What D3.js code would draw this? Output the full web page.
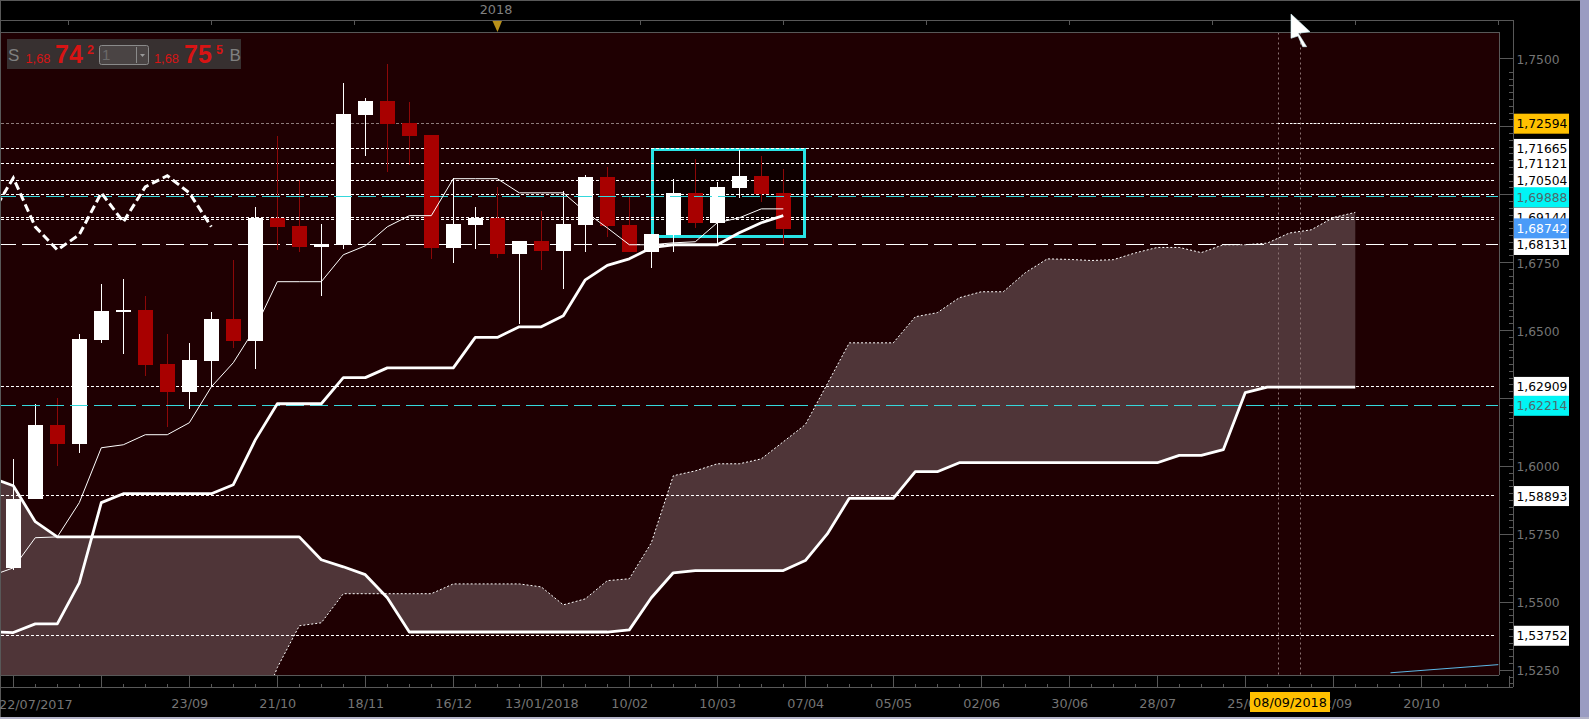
<!DOCTYPE html>
<html><head><meta charset="utf-8">
<script src="https://cdn.jsdelivr.net/npm/d3@7"></script>
<style>
html,body{margin:0;padding:0;background:#000;overflow:hidden}
svg{display:block}
text{font-family:"DejaVu Sans",sans-serif}
</style></head><body>
<svg id="c" width="1589" height="719"></svg>
<script>
// ---------- data ----------
const opens  = [1.5625,1.5879,1.6152,1.6082,1.6464,1.6567,1.6575,1.6376,1.6273,1.6387,1.6541,1.6461,1.6913,1.6884,1.6806,1.6814,1.7292,1.7344,1.7263,1.7219,1.6803,1.6887,1.6913,1.6781,1.6828,1.6792,1.6887,1.7064,1.6887,1.6788,1.6851,1.7005,1.6895,1.7023,1.7068,1.7005];
const closes = [1.5879,1.6152,1.6082,1.6468,1.6571,1.6575,1.6372,1.6273,1.6391,1.6541,1.6461,1.6913,1.6880,1.6806,1.6817,1.7296,1.7344,1.7259,1.7215,1.6803,1.6891,1.6913,1.6781,1.6828,1.6792,1.6891,1.7064,1.6884,1.6788,1.6854,1.7005,1.6895,1.7027,1.7068,1.7001,1.6873];
const highs  = [1.6027,1.6229,1.6251,1.6486,1.6670,1.6689,1.6626,1.6486,1.6453,1.6567,1.6759,1.6954,1.7215,1.7053,1.6891,1.7410,1.7355,1.7480,1.7340,1.7219,1.7060,1.6954,1.7027,1.6828,1.6939,1.7012,1.7071,1.7101,1.6990,1.6854,1.7057,1.7130,1.7046,1.7163,1.7141,1.7093];
const lows   = [1.5618,1.5879,1.6001,1.6049,1.6453,1.6413,1.6332,1.6144,1.6210,1.6291,1.6435,1.6358,1.6795,1.6788,1.6626,1.6799,1.7141,1.7082,1.7108,1.6762,1.6748,1.6799,1.6766,1.6523,1.6722,1.6652,1.6788,1.6843,1.6788,1.6729,1.6788,1.6876,1.6814,1.6987,1.6972,1.6817];

// Ichimoku series: first element belongs to bar index -1
const tenkan = [1.5596,1.5625,1.5736,1.5739,1.5865,1.6067,1.6078,1.6115,1.6115,1.6159,1.6291,1.6380,1.6508,1.6678,1.6678,1.6678,1.6777,1.6810,1.6880,1.6921,1.6921,1.7057,1.7057,1.7057,1.7005,1.7005,1.7005,1.6935,1.6876,1.6814,1.6814,1.6821,1.6825,1.6895,1.6913,1.6946,1.6946];
const kijun  = [1.5390,1.5387,1.5419,1.5419,1.5570,1.5865,1.5898,1.5898,1.5898,1.5898,1.5898,1.5931,1.6096,1.6229,1.6229,1.6229,1.6325,1.6325,1.6361,1.6361,1.6361,1.6361,1.6473,1.6473,1.6512,1.6512,1.6553,1.6685,1.6738,1.6762,1.6803,1.6814,1.6814,1.6814,1.6858,1.6895,1.6921];
const senkouA = [1.505,1.505,1.505,1.505,1.505,1.505,1.505,1.505,1.505,1.505,1.505,1.505,1.505,1.5258,1.5412,1.5423,1.5530,1.5530,1.5530,1.5530,1.5530,1.5566,1.5566,1.5566,1.5566,1.5555,1.5489,1.5511,1.5578,1.5585,1.5717,1.5964,1.5982,1.6008,1.6008,1.6026,1.6089,1.6152,1.6302,1.6453,1.6453,1.6453,1.6549,1.6564,1.6619,1.6641,1.6641,1.6711,1.6762,1.6760,1.6756,1.6759,1.6784,1.6804,1.6804,1.6785,1.6814,1.6814,1.6820,1.6857,1.6869,1.6914,1.6933];
const senkouB = [1.5957,1.5927,1.5795,1.5739,1.5739,1.5739,1.5739,1.5739,1.5739,1.5739,1.5739,1.5739,1.5739,1.5739,1.5739,1.5655,1.5629,1.5600,1.5515,1.5389,1.5389,1.5389,1.5389,1.5389,1.5389,1.5389,1.5389,1.5389,1.5389,1.5397,1.5515,1.5607,1.5615,1.5615,1.5615,1.5615,1.5615,1.5652,1.5750,1.5881,1.5881,1.5881,1.5979,1.5979,1.6012,1.6012,1.6012,1.6012,1.6012,1.6012,1.6012,1.6012,1.6012,1.6012,1.6039,1.6039,1.6060,1.6270,1.6290,1.6290,1.6290,1.6290,1.6290];
const chikou = [1.6924,1.7060,1.6880,1.6795,1.6851,1.7005,1.6898,1.7027,1.7068,1.7005,1.6880];
const blueIdx = [62.6,67.5];
const blueVal = [1.5239,1.5269];

const dottedLevels = [1.72594,1.71665,1.71121,1.70504,1.6997,1.69144,1.6904,1.62909,1.58893,1.53752];
const cyanLevels = [1.69888,1.62214];
const longDashLevels = [1.68131];
const boxIdx = [29.05,35.97];
const boxVal = [1.7163,1.6843];

const yMajor = [1.75,1.725,1.7,1.675,1.65,1.625,1.6,1.575,1.55,1.525];
const yLabels = [1.75,1.675,1.65,1.6,1.575,1.55,1.525];
// order matters: later boxes paint over earlier ones
const tagValues = [1.68131,1.69144,1.70504,1.71121,1.71665,1.72594,1.69888,1.68742,1.62909,1.62214,1.58893,1.53752];
const tagFills  = ["#fff","#fff","#fff","#fff","#fff","#ffc000","#00f5f5","#4a9bf8","#fff","#00f5f5","#fff","#fff"];
const tagInks   = ["#000","#000","#000","#000","#000","#000","#4d6a6c","#fff","#000","#4d6a6c","#000","#000"];

const xMajorIdx = [0,4,8,12,16,20,24,28,32,36,40,44,48,52,56,60,64,68];
const xLabelIdx = [8,12,16,20,24,28,32,36,40,44,48,52,56,60,64];
const xLabelTxt = ["23/09","21/10","18/11","16/12","13/01/2018","10/02","10/03","07/04","05/05","02/06","30/06","28/07","25/08","22/09","20/10"];
const topTickIdx = [2.49,8.99,15.49,21.99,28.49,34.99,41.49,47.99,54.49,60.99,67.49];
const cursorIdx = [57.5,58.5];
const cursorDate = "08/09/2018";

// ---------- layout ----------
const C = {bg:"#1f0002",cloud:"#4f3538",axis:"#585858",txt:"#757575",red:"#a80000",wick:"#8c0808",cyan:"#28e4e6"};
const P = {l:1,r:1499,t:32.5,b:675};
const x = d3.scaleLinear().domain([0,67]).range([13.3,1487.3]);
const y = d3.scaleLinear().domain([1.525,1.75]).range([669.8,58.3]);
const snap = v=>Math.floor(y(v)-0.4)+.5;
const fmt = d=>d.toFixed(4).replace(".",",");
const fmt5 = d=>d.toFixed(5).replace(".",",");
const svg = d3.select("#c");

// plot background
svg.append("rect").attr("x",P.l).attr("y",P.t).attr("width",P.r-P.l).attr("height",P.b-P.t).attr("fill",C.bg);
svg.append("clipPath").attr("id","pc").append("rect").attr("x",P.l).attr("y",P.t).attr("width",P.r-P.l).attr("height",P.b-P.t);
const g = svg.append("g").attr("clip-path","url(#pc)");

// cloud
const cloudA = senkouA.map((v,i)=>({i:i-1,a:v,b:senkouB[i]}));
g.append("path").datum(cloudA).attr("fill",C.cloud)
  .attr("d",d3.area().x(d=>x(d.i)).y0(d=>y(d.a)).y1(d=>y(d.b)));

// highlight box interior
const bx0=x(boxIdx[0]),bx1=x(boxIdx[1]),by0=y(boxVal[0]),by1=y(boxVal[1]);
g.append("rect").attr("x",bx0).attr("y",by0).attr("width",bx1-bx0).attr("height",by1-by0).attr("fill","#0f0000");
g.append("rect").attr("x",bx0).attr("y",by0).attr("width",bx1-bx0).attr("height",by1-by0)
  .attr("fill","none").attr("stroke",C.cyan).attr("stroke-width",3).attr("shape-rendering","crispEdges");

// vertical cursors
g.selectAll("line.v").data(cursorIdx).join("line")
  .attr("x1",d=>Math.round(x(d))+.5).attr("x2",d=>Math.round(x(d))+.5).attr("y1",P.t).attr("y2",P.b)
  .attr("stroke","#8a7272").attr("stroke-width",1).attr("stroke-dasharray","2 3");

// dotted levels
g.selectAll("line.d").data(dottedLevels).join("line")
  .attr("x1",1).attr("x2",1496).attr("y1",snap).attr("y2",snap)
  .attr("stroke",d=>d===dottedLevels[0]?"#8c7a7a":"#fff").attr("stroke-width",1).attr("stroke-dasharray","3 2").attr("shape-rendering","crispEdges");
g.append("line").attr("x1",1278).attr("x2",1496).attr("y1",snap(dottedLevels[0])).attr("y2",snap(dottedLevels[0]))
  .attr("stroke","#fff").attr("stroke-dasharray","2 2").attr("shape-rendering","crispEdges");
// long dash
g.selectAll("line.l").data(longDashLevels).join("line")
  .attr("x1",-2).attr("x2",1498).attr("y1",snap).attr("y2",snap)
  .attr("stroke","#fff").attr("stroke-dasharray","18 6").attr("shape-rendering","crispEdges");

// candles
const bars = opens.map((o,i)=>({i,o,c:closes[i],h:highs[i],l:lows[i]}));
const col = d=>d.c>=d.o?"#fff":C.red;
g.selectAll("line.w").data(bars).join("line")
  .attr("x1",d=>Math.round(x(d.i))+.5).attr("x2",d=>Math.round(x(d.i))+.5)
  .attr("y1",d=>y(d.h)).attr("y2",d=>y(d.l)).attr("stroke",d=>d.c>=d.o?"#fff":C.wick).attr("shape-rendering","crispEdges");
g.selectAll("rect.b").data(bars).join("rect")
  .attr("x",d=>Math.round(x(d.i))-7).attr("width",15)
  .attr("y",d=>y(Math.max(d.o,d.c))).attr("height",d=>Math.max(2,Math.abs(y(d.o)-y(d.c))))
  .attr("fill",col).attr("shape-rendering","crispEdges");

// cyan levels above candles
g.selectAll("line.c").data(cyanLevels).join("line")
  .attr("x1",-2).attr("x2",1498).attr("y1",snap).attr("y2",snap)
  .attr("stroke","#35d8dc").attr("stroke-dasharray","18 6").attr("shape-rendering","crispEdges");

// ichimoku lines
const line = d3.line().x(d=>x(d.i)).y(d=>y(d.v));
const ser = (arr,off)=>arr.map((v,i)=>({i:i+off,v}));
g.append("path").datum(ser(senkouA,-1).filter(d=>d.i>=11)).attr("d",line).attr("fill","none")
  .attr("stroke","#fff").attr("stroke-width",1).attr("stroke-dasharray","2 2");
g.append("path").datum(ser(senkouB,-1)).attr("d",line).attr("fill","none")
  .attr("stroke","#fff").attr("stroke-width",2.8).attr("stroke-linejoin","round");
g.append("path").datum(ser(kijun,-1)).attr("d",line).attr("fill","none")
  .attr("stroke","#fff").attr("stroke-width",2.8).attr("stroke-linejoin","round");
g.append("path").datum(ser(tenkan,-1)).attr("d",line).attr("fill","none")
  .attr("stroke","#fff").attr("stroke-width",1);
g.append("path").datum(ser(chikou,-1)).attr("d",line).attr("fill","none")
  .attr("stroke","#fff").attr("stroke-width",3).attr("stroke-dasharray","8 4");
g.append("path").datum(blueIdx.map((v,i)=>({i:v,v:blueVal[i]}))).attr("d",line).attr("fill","none")
  .attr("stroke","#5db8e6").attr("stroke-width",1);

// frame lines
const frame = (x1,y1,x2,y2)=>svg.append("line").attr("x1",x1).attr("y1",y1).attr("x2",x2).attr("y2",y2)
  .attr("stroke",C.axis).attr("shape-rendering","crispEdges");
frame(0,0.5,1580,0.5);
frame(0.5,0,0.5,718);
frame(0,20.5,1513,20.5);
frame(0,32.5,1499,32.5);
frame(1499.5,32,1499.5,675);
frame(0,675.5,1499,675.5);

// right axis
const minor = d3.range(0,92).map(k=>1.525-0.0025*3+k*0.0025);
svg.append("g").attr("transform","translate(1513.5,0)")
  .call(d3.axisLeft(y).tickValues(minor.filter(v=>y(v)>22&&y(v)<686)).tickSize(5).tickFormat("")).call(s=>{s.select(".domain").remove();s.selectAll("line").attr("stroke",C.axis).attr("shape-rendering","crispEdges");});
svg.append("g").attr("transform","translate(1513.5,0)")
  .call(d3.axisLeft(y).tickValues(yMajor).tickSize(14).tickFormat("")).call(s=>{s.select(".domain").remove();s.selectAll("line").attr("stroke",C.axis).attr("shape-rendering","crispEdges");});
frame(1513.5,20,1513.5,687);
svg.append("g").attr("transform","translate(1513.5,1)")
  .call(d3.axisRight(y).tickValues(yLabels).tickSize(0).tickPadding(3).tickFormat(fmt))
  .call(s=>{s.select(".domain").remove();s.selectAll("text").attr("fill",C.txt).style("font-size","12.3px").style("font-family",'"DejaVu Sans",sans-serif');});

// bottom axis
const bAll = d3.range(-1,68);
svg.append("g").attr("transform","translate(0,687.5)")
  .call(d3.axisTop(x).tickValues(bAll).tickSize(4).tickFormat("")).call(s=>{s.select(".domain").remove();s.selectAll("line").attr("stroke",C.axis).attr("shape-rendering","crispEdges");});
svg.append("g").attr("transform","translate(0,687.5)")
  .call(d3.axisTop(x).tickValues(xMajorIdx).tickSize(12).tickFormat("")).call(s=>{s.select(".domain").remove();s.selectAll("line").attr("stroke",C.axis).attr("shape-rendering","crispEdges");});
frame(0,687.5,1513,687.5);
svg.append("g").attr("transform","translate(0,687.5)")
  .call(d3.axisBottom(x).tickValues(xLabelIdx).tickSize(0).tickPadding(11).tickFormat((d,i)=>xLabelTxt[i]))
  .call(s=>{s.select(".domain").remove();s.selectAll("text").attr("fill",C.txt).style("font-size","12.8px").style("font-family",'"DejaVu Sans",sans-serif');});
svg.append("text").attr("x",-1).attr("y",709).attr("fill",C.txt).attr("font-size","12.8px").text("22/07/2017");

// date tag
svg.append("rect").attr("x",1250).attr("y",692).attr("width",80).attr("height",20).attr("fill","#ffc000");
svg.append("text").attr("x",1290).attr("y",707).attr("text-anchor","middle").attr("fill","#000").attr("font-size","12.8px").text(cursorDate);

// price tags
const tags = svg.append("g");
tagValues.forEach((v,i)=>{
  const cy=y(v);
  tags.append("rect").attr("x",1514).attr("y",cy-10).attr("width",55).attr("height",20).attr("fill",tagFills[i]);
  tags.append("text").attr("x",1516.5).attr("y",cy+4.5).attr("fill",tagInks[i]).attr("font-size","12.3px").text(fmt5(v));
});

// top axis
svg.append("g").attr("transform","translate(0,20.5)")
  .call(d3.axisBottom(x).tickValues(topTickIdx).tickSize(4).tickFormat("")).call(s=>{s.select(".domain").remove();s.selectAll("line").attr("stroke",C.axis).attr("shape-rendering","crispEdges");});
svg.append("text").attr("x",496).attr("y",13.5).attr("text-anchor","middle").attr("fill","#808080").attr("font-size","12.8px").text("2018");
svg.append("path").attr("d","M492.5,21 L502,21 L497.5,32 Z").attr("fill","#b8901a");

// quote widget
const W = svg.append("g");
W.append("rect").attr("x",7).attr("y",39).attr("width",234).attr("height",30).attr("fill","#373030");
const wt=(tx,ty,s,size,fill,bold)=>W.append("text").attr("x",tx).attr("y",ty).attr("fill",fill).attr("font-size",size+"px")
  .attr("font-weight",bold?"bold":"normal").style("font-family",'"Liberation Sans",sans-serif').text(s);
wt(8,61,"S",17,"#808080");
wt(25.5,63,"1,68",12.8,"#d81414");
wt(55,62.5,"74",25,"#d81414",true);
wt(87,54,"2",12.5,"#d81414",true);
W.append("rect").attr("x",99.5).attr("y",45.5).attr("width",49).attr("height",19).attr("rx",2).attr("fill","#4a4444").attr("stroke","#8a8a8a");
W.append("line").attr("x1",136.5).attr("x2",136.5).attr("y1",47).attr("y2",63).attr("stroke","#8a8a8a");
W.append("path").attr("d","M140,54 L145,54 L142.5,57 Z").attr("fill","#999");
wt(102,60,"1",15,"#6a6a6a");
wt(154,63,"1,68",12.8,"#d81414");
wt(184,62.5,"75",25,"#d81414",true);
wt(216,54,"5",12.5,"#d81414",true);
wt(229.5,61,"B",17,"#808080");

// mouse cursor
svg.append("path").attr("d","M1291,14 L1310,31.7 L1298.3,33.3 L1306.7,46.7 L1302.7,46.7 L1298,36 L1291,38.3 Z").attr("fill","#fff").attr("stroke","#d4f4f8").attr("stroke-width",.6);

// window edge
svg.append("rect").attr("x",1580).attr("y",0).attr("width",9).attr("height",719).attr("fill","#9a9cc2");
svg.append("rect").attr("x",0).attr("y",717).attr("width",1589).attr("height",2).attr("fill","#b4b4c8");
</script>
</body></html>
